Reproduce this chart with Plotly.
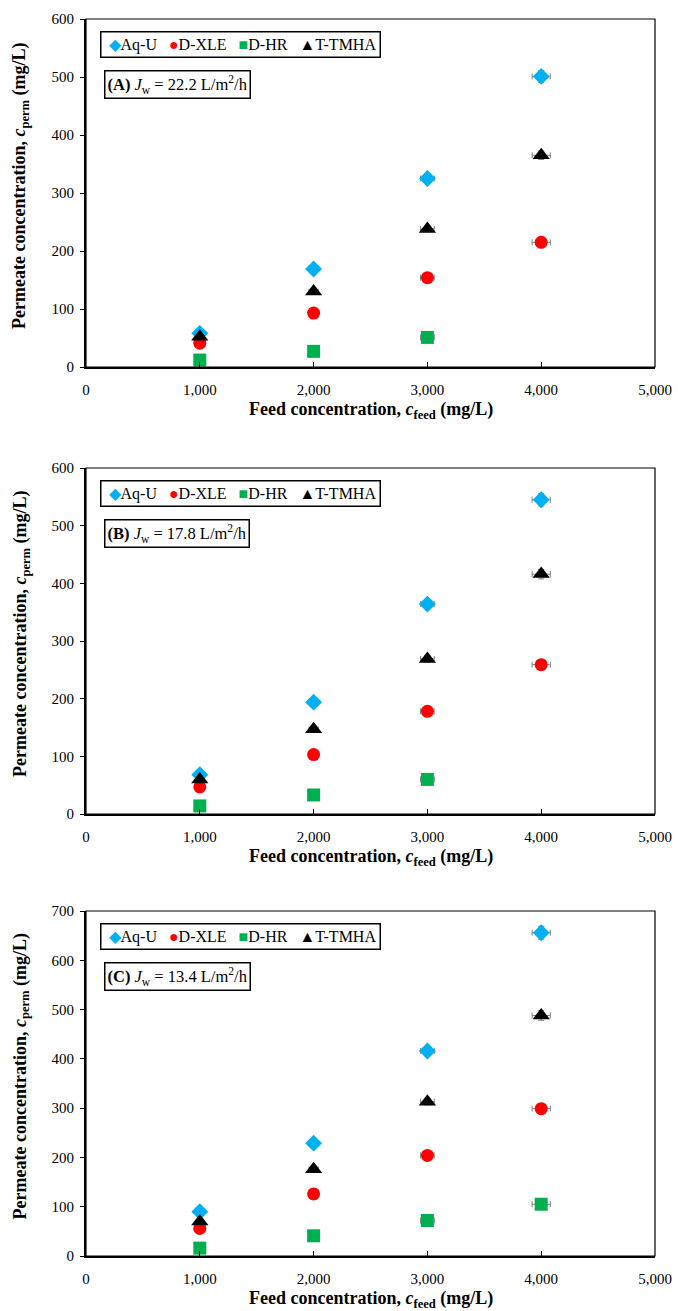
import plotly.graph_objects as go

W, H = 678, 1311

feed = [1000, 2000, 3000, 4000]
feed_err = [20, 40, 60, 80]

# Panel A (Jw = 22.2)
a_aqu = [58, 169, 325, 501]
a_dxle = [41, 93, 154, 215]
a_dhr = [12, 27, 51]
a_ttmha = [52, 130, 238, 365]

# Panel B (Jw = 17.8)
b_aqu = [68, 194, 364, 545]
b_dxle = [47, 103, 178, 259]
b_dhr = [14, 33, 60]
b_ttmha = [60, 147, 269, 416]

# Panel C (Jw = 13.4)
c_aqu = [90, 229, 416, 656]
c_dxle = [56, 126, 204, 299]
c_dhr = [16, 41, 72, 105]
c_ttmha = [70, 176, 313, 488]

series_names = ["Aq-U", "D-XLE", "D-HR", "T-TMHA"]
series_colors = ["#00B0F0", "#FF0000", "#00B050", "#000000"]
series_symbols = ["diamond", "circle", "square", "triangle-up"]
series_glyphs = ["\u25C6", "\u25CF", "\u25A0", "\u25B2"]
series_sizes = [13, 13, 13, 15]

panel_labels = ["<b>(A)</b> <i>J</i><sub>w</sub> = 22.2 L/m<sup>2</sup>/h",
                "<b>(B)</b> <i>J</i><sub>w</sub> = 17.8 L/m<sup>2</sup>/h",
                "<b>(C)</b> <i>J</i><sub>w</sub> = 13.4 L/m<sup>2</sup>/h"]
panel_data = [[a_aqu, a_dxle, a_dhr, a_ttmha],
              [b_aqu, b_dxle, b_dhr, b_ttmha],
              [c_aqu, c_dxle, c_dhr, c_ttmha]]
panel_ymax = [600, 600, 700]

# pixel layout (top, bottom) of each plot area
panel_px = [(19, 367), (468, 814), (911, 1256)]
x_left, x_right = 86, 655

FONT = "Liberation Serif, Times New Roman, serif"
NB = "\u00a0"

fig = go.Figure()
layout = dict(
    width=W, height=H,
    margin=dict(l=0, r=0, t=0, b=0, pad=0, autoexpand=False),
    paper_bgcolor="white", plot_bgcolor="white",
    font=dict(family=FONT, size=15, color="#000000"),
    showlegend=False,
    shapes=[], annotations=[],
)

def py(p):
    return 1 - p / H

# legend text built from the series names/colours
parts = []
for j in range(4):
    parts.append('<span style="color:%s;font-size:16px">%s</span>%s'
                 % (series_colors[j], series_glyphs[j], series_names[j]))
legend_text = NB + (NB * 3).join(parts)

for i in range(3):
    sfx = "" if i == 0 else str(i + 1)
    xa = "x" + sfx
    ya = "y" + sfx
    top, bot = panel_px[i]
    for j in range(4):
        yvals = panel_data[i][j]
        n = len(yvals)
        yerr = [max(1.5, round(v * 0.02, 1)) for v in yvals]
        fig.add_trace(go.Scatter(
            x=feed[:n], y=yvals, mode="markers", name=series_names[j],
            xaxis=xa, yaxis=ya,
            marker=dict(symbol=series_symbols[j], size=series_sizes[j],
                        color=series_colors[j], line=dict(width=0)),
            error_x=dict(type="data", array=feed_err[:n], color="#7F7F7F",
                         thickness=1, width=3),
            error_y=dict(type="data", array=yerr, color="#7F7F7F",
                         thickness=1, width=3),
        ))
    layout["xaxis" + sfx] = dict(
        domain=[x_left / W, x_right / W], anchor=ya,
        range=[0, 5000], dtick=1000, tick0=0, tickformat=",",
        showgrid=False, zeroline=False,
        showline=True, linecolor="#000000", linewidth=2,
        ticks="inside", ticklen=5, tickwidth=1, tickcolor="#000000",
        tickfont=dict(family=FONT, size=15, color="#000000"),
        ticklabelstandoff=8,
    )
    layout["yaxis" + sfx] = dict(
        domain=[py(bot), py(top)], anchor=xa,
        range=[0, panel_ymax[i]], dtick=100, tick0=0,
        showgrid=False, zeroline=False,
        showline=True, linecolor="#000000", linewidth=2,
        ticks="outside", ticklen=4, tickwidth=1, tickcolor="#000000",
        tickfont=dict(family=FONT, size=15, color="#000000"),
        ticklabelstandoff=3,
    )
    # plot-area border
    layout["shapes"].append(dict(
        type="rect", xref=xa + " domain", yref=ya + " domain",
        x0=0, x1=1, y0=0, y1=1, line=dict(color="#000000", width=1.2),
        fillcolor="rgba(0,0,0,0)", layer="above"))
    # legend box
    layout["annotations"].append(dict(
        x=100 / W, y=py(top + 12), xref="paper", yref="paper",
        xanchor="left", yanchor="top", showarrow=False, align="left",
        text=legend_text, font=dict(family=FONT, size=16, color="#000000"),
        bordercolor="#000000", borderwidth=1.5, borderpad=3, bgcolor="white"))
    # panel label box
    layout["annotations"].append(dict(
        x=104 / W, y=py(top + 51), xref="paper", yref="paper",
        xanchor="left", yanchor="top", showarrow=False,
        text=panel_labels[i], font=dict(family=FONT, size=16.5, color="#000000"),
        bordercolor="#000000", borderwidth=1.5, borderpad=2, bgcolor="white"))
    # axis titles
    layout["annotations"].append(dict(
        x=(x_left + x_right) / 2 / W, y=py(bot + 43), xref="paper", yref="paper",
        xanchor="center", yanchor="middle", showarrow=False,
        text="<b>Feed concentration, <i>c</i><sub>feed</sub> (mg/L)</b>",
        font=dict(family=FONT, size=18, color="#000000")))
    layout["annotations"].append(dict(
        x=21 / W, y=py((top + bot) / 2 - 7), xref="paper", yref="paper",
        xanchor="center", yanchor="middle", showarrow=False, textangle=-90,
        text="<b>Permeate concentration, <i>c</i><sub>perm</sub> (mg/L)</b>",
        font=dict(family=FONT, size=18, color="#000000")))

fig.update_layout(**layout)
fig.write_html(
    "out.html",
    config={"displayModeBar": False},
    post_script="document.body.style.margin='0';document.body.style.overflow='hidden';",
)
